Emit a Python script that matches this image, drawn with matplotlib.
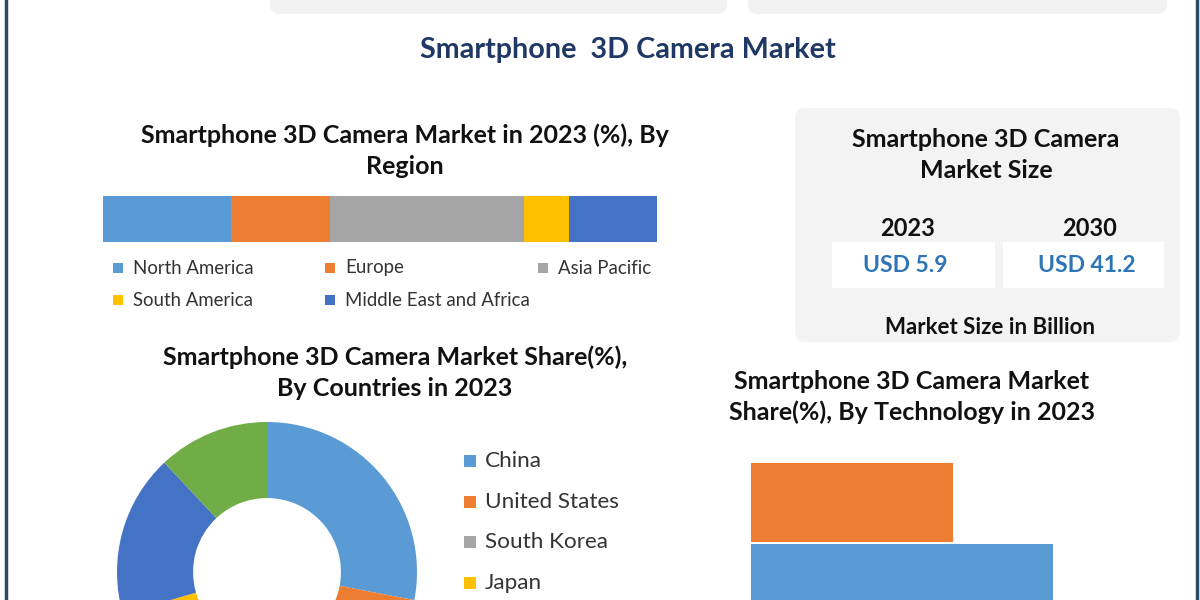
import matplotlib.pyplot as plt
from matplotlib.patches import FancyBboxPatch, Rectangle

plt.rcParams['font.family'] = ['Lato', 'DejaVu Sans']

# data
regions = ['North America', 'Europe', 'Asia Pacific', 'South America', 'Middle East and Africa']
region_share = [23.1, 17.9, 35.0, 8.1, 15.9]
region_colors = ['#5b9bd5', '#ed7d31', '#a5a5a5', '#ffc000', '#4472c4']

countries = ['China', 'United States', 'South Korea', 'Japan', 'India', 'Others']
country_share = [28.0, 19.0, 13.0, 10.5, 17.5, 12.0]
country_colors = ['#5b9bd5', '#ed7d31', '#a5a5a5', '#ffc000', '#4472c4', '#70ad47']
countries_shown = 4

technologies = ['Time of Flight', 'Stereo Vision']
tech_share = [30, 45]
tech_colors = ['#ed7d31', '#5b9bd5']

size_years = ['2023', '2030']
size_values = ['USD 5.9', 'USD 41.2']

W, H = 1200, 600
fig = plt.figure(figsize=(12, 6), dpi=100)


def px_axes(x0, y0, x1, y1):
    return fig.add_axes([x0 / W, 1 - y1 / H, (x1 - x0) / W, (y1 - y0) / H])


# background layer in pixel coordinates
bg = fig.add_axes([0, 0, 1, 1])
bg.set_xlim(0, W)
bg.set_ylim(H, 0)
bg.axis('off')

bg.plot([6, 6], [0, H], color='#2f4a66', lw=2.5)
bg.plot([1197, 1197], [0, H], color='#2f4a66', lw=2.5)

for x0, x1 in [(270, 727), (748, 1167)]:
    bg.add_patch(FancyBboxPatch((x0, -30), x1 - x0, 44, boxstyle='round,pad=0,rounding_size=10',
                                fc='#f2f2f2', ec='none'))
bg.add_patch(FancyBboxPatch((795, 108), 385, 234, boxstyle='round,pad=0,rounding_size=10',
                            fc='#f3f3f3', ec='none'))
for x0, x1 in [(832, 995), (1003, 1164)]:
    bg.add_patch(Rectangle((x0, 242), x1 - x0, 46, fc='white', ec='none'))

bg.text(628, 50, 'Smartphone  3D Camera Market', ha='center', va='center',
        fontsize=20.7, fontweight='bold', color='#1f3864')

bg.text(405, 151, 'Smartphone 3D Camera Market in 2023 (%), By\nRegion', ha='center', va='center',
        fontsize=18, fontweight='bold', color='#111111', linespacing=1.42)
bg.text(395, 373, 'Smartphone 3D Camera Market Share(%),\nBy Countries in 2023', ha='center',
        va='center', fontsize=18, fontweight='bold', color='#111111', linespacing=1.42)
bg.text(912, 397, 'Smartphone 3D Camera Market\nShare(%), By Technology in 2023', ha='center',
        va='center', fontsize=18, fontweight='bold', color='#111111', linespacing=1.42)

# market size panel
bg.text(986, 155, 'Smartphone 3D Camera\nMarket Size', ha='center', va='center',
        fontsize=18, fontweight='bold', color='#111111', linespacing=1.42)
for cx, yr, val in zip([908, 1090], size_years, size_values):
    bg.text(cx, 228, yr, ha='center', va='center', fontsize=17, fontweight='bold', color='#111111')
    bg.text(cx - 3, 266, val, ha='center', va='center', fontsize=16.5, fontweight='bold', color='#2e75b6')
bg.text(990, 328, 'Market Size in Billion', ha='center', va='center',
        fontsize=16, fontweight='bold', color='#111111')

# region legend
leg_pos = [(118, 268), (330, 268), (543, 268), (118, 300), (330, 300)]
for (lx, ly), name, c in zip(leg_pos, regions, region_colors):
    bg.add_patch(Rectangle((lx - 5, ly - 5), 10, 10, fc=c, ec='none'))
    bg.text(lx + 15, ly, name, ha='left', va='center', fontsize=13.4, color='#333333')

# country legend
for i in range(countries_shown):
    ly = 461 + i * 40.7
    bg.add_patch(Rectangle((464, ly - 6), 12, 12, fc=country_colors[i], ec='none'))
    bg.text(485, ly, countries[i], ha='left', va='center', fontsize=16.2, color='#333333')

# stacked region bar
ax1 = px_axes(103, 196, 657, 242)
left = 0
for share, c in zip(region_share, region_colors):
    ax1.barh(0, share, left=left, height=1.0, color=c, edgecolor='none')
    left += share
ax1.set_xlim(0, sum(region_share))
ax1.set_ylim(-0.5, 0.5)
ax1.axis('off')

# donut
ax2 = px_axes(117, 422, 417, 722)
ax2.pie(country_share, colors=country_colors, startangle=90, counterclock=False, radius=1,
        wedgeprops=dict(width=0.507, edgecolor='none'))
ax2.set_xlim(-1, 1)
ax2.set_ylim(-1, 1)
ax2.set_aspect('equal')
ax2.axis('off')

# technology bars
ax3 = px_axes(751, 462, 1154, 624)
ax3.barh(range(len(technologies)), tech_share, height=0.975, color=tech_colors, edgecolor='none')
ax3.set_xlim(0, 60)
ax3.set_ylim(1.5, -0.5)
ax3.axis('off')

fig.savefig('out.png', dpi=100)
